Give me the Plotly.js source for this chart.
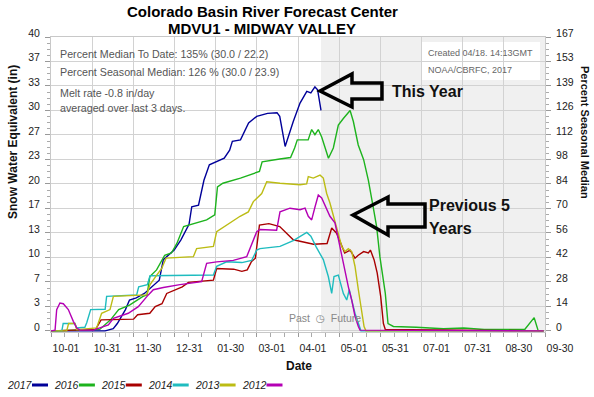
<!DOCTYPE html>
<html>
<head>
<meta charset="utf-8">
<script src="https://cdn.plot.ly/plotly-3.0.1.min.js"></script>
<style>html,body{margin:0;padding:0;background:#fff;}#chart{width:594px;height:397px;}</style>
</head>
<body>
<div id="chart"></div>
<script>
// ---- data (x = days since Oct 1, y = SWE inches) ----
const xTickLabels = ['10-01','10-31','11-30','12-31','01-30','03-01','04-01','05-01','05-31','07-01','07-31','08-30','09-30'];
const sweTickLabels = ['0','3','7','10','13','17','20','23','27','30','33','37','40'];
const pctTickLabels = ['0','14','28','42','56','70','84','98','112','126','139','153','167'];
const years = ['2017','2016','2015','2014','2013','2012'];
const colors = ['#000099','#1db31d','#a80000','#1fbcbf','#bcbc14','#b400b4'];

const days2017 = [0,40,46,49,55,58,63,69,80,83,91,96,102,104,109,113,117,128,132,134,140,146,152,160,167,169,173,179,184,189,192,195,197,199.5];
const swe2017  = [0,0,0.3,1.0,2.9,4.2,4.5,5.1,6.9,9.7,11.0,12.4,14.5,16.9,17.1,20.5,22.6,23.5,24.6,25.8,26.0,28.3,29.2,29.6,29.7,29.2,25.1,28.5,31.0,32.6,32.4,33.2,32.8,30.0];

const days2016 = [0,36,44,50,58,68,71,73,78,84,89,93,98,105,115,121,123,127,140,154,156,169,177,180,182,190,192.6,195,197.5,200,205,208.6,212.3,216,221,223.4,227,231,234.5,238,240.6,243,247,249,253,270,290,305,320,350,357,360,364];
const swe2016  = [0,0.2,1.5,2.9,3.5,4.7,4.9,7.4,8.3,10.3,10.6,11.9,14.2,14.6,15.1,15.8,19.6,20.1,20.8,21.7,23.0,23.4,23.6,24.9,26.0,26.0,27.4,26.7,27.4,26.4,23.5,24.9,28.0,28.9,30.0,28.5,25.3,23.3,20.5,16.9,14.2,10.1,5.1,1.0,0.6,0.5,0.3,0.4,0.2,0.2,1.8,0,0];

const days2015 = [0,33,37,61,64,73,77,82,85.5,92,97,101.5,120,122.4,135,141,145,148,151,154,161,169,179,194,204,207.4,211,213.5,217,221,224.6,227,231,234.5,236,238.7,241,243.6,245.6,247,364];
const swe2015  = [0,0.2,1.5,1.6,2.2,2.4,3.3,3.7,5.1,5.6,6.0,6.6,6.9,8.5,8.4,8.1,8.3,9.4,9.9,14.4,14.6,14.2,12.4,11.8,11.9,14.0,13.3,12.2,10.6,11.0,9.9,10.3,10.8,10.6,11.0,9.7,7.9,4.7,1.0,0.2,0];

const days2014 = [0,8,9,17.7,19,21.4,25,26.4,29.3,40,41.1,63.3,64.8,71.2,73.2,120,122.4,129.8,141,148.3,152,154.4,169.2,179,184,189,192,196,201.2,204.9,207.4,209.1,212.3,216,218.5,220.4,222.2,224.6,228.3,229,364];
const swe2014  = [0,0,1.0,1.0,0.4,0.4,0.5,1.1,2.9,2.95,4.7,4.9,6.0,6.3,7.5,7.6,8.8,9.4,9.3,9.6,11.0,11.2,11.5,12.3,12.8,13.4,12.9,11.4,9.7,7.4,5.1,7.4,7.6,5.1,4.2,5.6,4.2,2.4,0.4,0,0];

const days2013 = [0,11.6,13,17.7,19,21.4,33.7,37.4,43.6,46.1,70.7,73.2,78.1,81.8,85,105.2,107.6,120,122.4,129.8,139.7,145.8,149.5,155.7,159.4,169.2,179,184,188.9,190.1,193.8,198.8,201.2,203.7,206.1,208.6,212.3,214.8,217.2,219.7,222.2,224.6,227.1,229.5,231.3,232.7,364];
const swe2013  = [0,0,1.0,1.0,0.2,0.2,0.4,2.4,2.9,4.7,4.9,6.3,7.6,8.5,9.9,10.1,11.2,11.5,13.5,14.4,15.6,16.2,17.6,18.7,20.3,20.1,19.9,19.9,20.0,21.0,20.8,21.2,20.8,18.7,17.4,15.6,13.3,11.5,10.8,11.2,10.8,8.8,5.6,2.4,0.6,0,0];

const days2012 = [0,3,4.2,6.6,9.1,12.8,16.5,19,21.4,31.3,42.4,46.1,57.1,64.5,71.9,75.6,83,95.3,111.3,115,122.4,134.7,144.6,152,154.4,166.7,169.2,176.6,184,187.7,190.1,192.6,195.1,197.5,200,203.7,206.1,209.8,212.3,214.8,217.2,219.7,222.2,224.6,227.1,228.3,364];
const swe2012  = [0,0.1,2.9,3.8,3.7,2.9,1.3,0.4,0.1,0.1,0.8,1.7,2.4,3.3,4.9,5.6,5.9,6.3,6.7,9.2,9.4,9.6,10.1,13.5,13.8,13.7,16.2,16.7,16.5,16.7,15.6,15.1,16.9,18.5,18.1,16.5,15.6,14.7,12.4,10.1,7.9,6.0,4.2,2.0,0.6,0.1,0];

const nowDay = 199.5; // 04-18
const yearDays = 365;
const sweMax = 40, pctMax = 167, yLow = -0.15;

const seriesX = [days2017,days2016,days2015,days2014,days2013,days2012];
const seriesY = [swe2017,swe2016,swe2015,swe2014,swe2013,swe2012];

// ---- layout geometry helpers (pixel -> paper) ----
const L=51, R=545, T=37, B=332;
const px = p => (p-L)/(R-L);
const py = p => (B-p)/(B-T);
const P = (a,b) => px(a).toFixed(4)+','+py(b).toFixed(4);

const traces = seriesX.map((xs,i)=>({
  x: xs, y: seriesY[i], type:'scatter', mode:'lines',
  line:{color:colors[i], width:1.4}, hoverinfo:'skip', showlegend:false
}));
traces.push({x:[null], y:[null], yaxis:'y2', type:'scatter', mode:'lines', showlegend:false, hoverinfo:'skip'});

const tickFont = {family:'Liberation Sans, Arial, sans-serif', size:10.5, color:'#222'};
const grid = '#d2d2d2';

const shapes = [
  {type:'rect', xref:'x', yref:'paper', x0:nowDay, x1:yearDays, y0:0, y1:1, fillcolor:'#f0f0f0', line:{width:0}, layer:'below'},
  {type:'rect', xref:'paper', yref:'paper', x0:0, x1:px(281), y0:py(117), y1:1, fillcolor:'#ffffff', line:{width:0}, layer:'between'},
  {type:'rect', xref:'paper', yref:'paper', x0:px(422), x1:px(540), y0:py(80), y1:py(42), fillcolor:'#ffffff', line:{width:0}, layer:'between'},
  {type:'path', xref:'paper', yref:'paper', layer:'above', line:{color:'#000', width:3.5},
   path:'M'+P(320,91)+' L'+P(352,74)+' L'+P(352,83)+' L'+P(382,83)+' L'+P(382,99)+' L'+P(352,99)+' L'+P(352,107)+' Z'},
  {type:'path', xref:'paper', yref:'paper', layer:'above', line:{color:'#000', width:3.5},
   path:'M'+P(353,215)+' L'+P(388,197)+' L'+P(388,204)+' L'+P(425,204)+' L'+P(425,227)+' L'+P(388,227)+' L'+P(388,235)+' Z'}
];

const ann = [];
const A = (o)=>ann.push(Object.assign({xref:'paper', yref:'paper', showarrow:false}, o));
const titleFont = {family:'Liberation Sans, Arial, sans-serif', size:15, color:'#000'};
A({x:px(262), y:py(11), text:'<b>Colorado Basin River Forecast Center</b>', font:titleFont, xanchor:'center', yanchor:'middle'});
A({x:px(262), y:py(28), text:'<b>MDVU1 - MIDWAY VALLEY</b>', font:titleFont, xanchor:'center', yanchor:'middle'});
const axTitleFont = {family:'Liberation Sans, Arial, sans-serif', size:12, color:'#111'};
A({x:px(13), y:py(142), text:'<b>Snow Water Equivalent (in)</b>', textangle:-90, font:axTitleFont, xanchor:'center', yanchor:'middle'});
A({x:px(585), y:py(132), text:'<b>Percent Seasonal Median</b>', textangle:90, font:Object.assign({},axTitleFont,{size:11}), xanchor:'center', yanchor:'middle'});
A({x:px(299), y:py(366), text:'<b>Date</b>', font:axTitleFont, xanchor:'center', yanchor:'middle'});
const infoFont = {family:'Liberation Sans, Arial, sans-serif', size:10.7, color:'#555'};
A({x:px(58), y:py(54), text:'Percent Median To Date: 135% (30.0 / 22.2)', font:infoFont, xanchor:'left', yanchor:'middle'});
A({x:px(58), y:py(71.7), text:'Percent Seasonal Median: 126 % (30.0 / 23.9)', font:infoFont, xanchor:'left', yanchor:'middle'});
A({x:px(58), y:py(92.7), text:'Melt rate -0.8 in/day', font:infoFont, xanchor:'left', yanchor:'middle'});
A({x:px(58), y:py(108), text:'averaged over last 3 days.', font:infoFont, xanchor:'left', yanchor:'middle'});
const smallFont = {family:'Liberation Sans, Arial, sans-serif', size:9, color:'#666'};
A({x:px(426), y:py(53), text:'Created 04/18. 14:13GMT', font:smallFont, xanchor:'left', yanchor:'middle'});
A({x:px(426), y:py(70), text:'NOAA/CBRFC, 2017', font:smallFont, xanchor:'left', yanchor:'middle'});
A({x:px(324.5), y:py(318), text:'Past  \u25F7  Future', font:{family:'Liberation Sans, DejaVu Sans, sans-serif', size:10.5, color:'#888'}, xanchor:'center', yanchor:'middle'});
const bigFont = {family:'Liberation Sans, Arial, sans-serif', size:16, color:'#111'};
A({x:px(390), y:py(91), text:'<b>This Year</b>', font:bigFont, xanchor:'left', yanchor:'middle'});
A({x:px(427), y:py(205), text:'<b>Previous 5</b>', font:bigFont, xanchor:'left', yanchor:'middle'});
A({x:px(427), y:py(228), text:'<b>Years</b>', font:bigFont, xanchor:'left', yanchor:'middle'});

// legend: label then swatch
const legFont = {family:'Liberation Sans, Arial, sans-serif', size:10.5, color:'#222'};
years.forEach((yr,i)=>{
  const x0 = 5 + i*46.9;
  A({x:px(x0), y:py(385), text:'<i>'+yr+'</i>', font:legFont, xanchor:'left', yanchor:'middle'});
  shapes.push({type:'line', xref:'paper', yref:'paper', x0:px(x0+27), x1:px(x0+43), y0:py(385), y1:py(385), line:{color:colors[i], width:3}});
});

const layout = {
  width:594, height:397,
  margin:{l:L, r:594-R, t:T, b:397-B, pad:0},
  paper_bgcolor:'#fff', plot_bgcolor:'#fff',
  showlegend:false,
  xaxis:{range:[0,yearDays], tickmode:'array', tickvals:xTickLabels.map((_,i)=>i*yearDays/12), ticktext:xTickLabels,
    ticks:'outside', ticklen:4, tickcolor:'#999', showgrid:true, gridcolor:grid, zeroline:false,
    showline:true, linecolor:'#c8c8c8', mirror:true, tickfont:tickFont, ticklabelshift:15, ticklabelstandoff:2,
    minor:{dtick:yearDays/36, tick0:0, ticks:'outside', ticklen:4, tickcolor:'#aaa', showgrid:false}},
  yaxis:{range:[yLow,sweMax], tickmode:'array', tickvals:sweTickLabels.map((_,i)=>i*sweMax/12), ticktext:sweTickLabels,
    ticks:'outside', ticklen:5, tickcolor:'#999', showgrid:true, gridcolor:grid, zeroline:false,
    showline:true, linecolor:'#c8c8c8', mirror:true, tickfont:tickFont, ticklabelstandoff:3, ticklabelshift:-4,
    minor:{dtick:sweMax/48, tick0:0, ticks:'outside', ticklen:3, tickcolor:'#aaa', showgrid:false}},
  yaxis2:{overlaying:'y', side:'right', range:[yLow*pctMax/sweMax,pctMax], tickmode:'array', tickvals:pctTickLabels.map((_,i)=>i*pctMax/12), ticktext:pctTickLabels,
    ticks:'outside', ticklen:5, tickcolor:'#999', showgrid:false, zeroline:false, showline:false, tickfont:tickFont, ticklabelstandoff:3, ticklabelshift:-4,
    minor:{dtick:pctMax/48, tick0:0, ticks:'outside', ticklen:3, tickcolor:'#aaa', showgrid:false}},
  shapes:shapes,
  annotations:ann
};

Plotly.newPlot('chart', traces, layout, {staticPlot:true, displayModeBar:false});
</script>
</body>
</html>
